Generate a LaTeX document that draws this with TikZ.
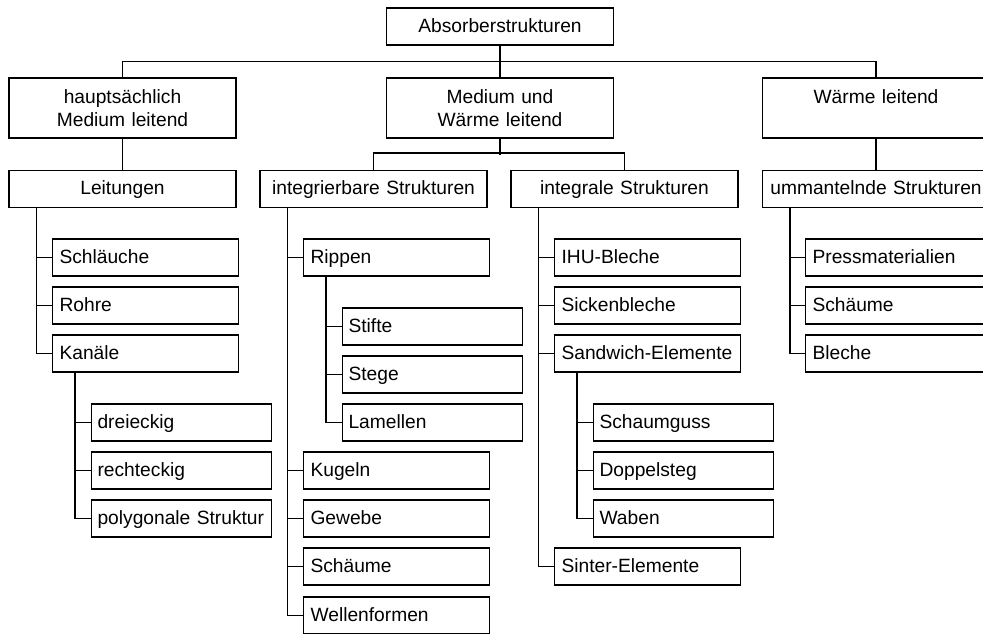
\documentclass[tikz,border=0pt]{standalone}
\usepackage{fontspec}
\setmainfont{Liberation Sans}
\tikzset{
  box/.style={draw,line width=0.55pt,inner ysep=0pt,minimum height=18.5pt,text height=7.3pt,text depth=1.8pt},
  headbox/.style={box,inner xsep=2pt,text width=109.5pt,align=center},
  groupbox/.style={draw,line width=0.55pt,inner xsep=2pt,inner ysep=0pt,minimum height=30pt,text width=109.5pt,align=center},
  leafbox/.style={box,anchor=west,inner xsep=3.5pt,text width=86pt,align=left},
  subbox/.style={box,anchor=west,inner xsep=3pt,text width=84pt,align=left},
  link/.style={line width=0.55pt}
}
\begin{document}
\begin{tikzpicture}[x=0.5pt,y=-0.5pt,font=\fontsize{9.6}{11.2}\selectfont]
  \clip (0,0) rectangle (983,633);

  % top levels
  \node[headbox] (root) at (500,26.5) {Absorberstrukturen};
  \node[groupbox] (medl) at (122.5,108) {hauptsächlich\\Medium leitend};
  \node[groupbox] (mwl) at (500,108) {Medium und\\Wärme leitend};
  \node[groupbox] (wl) at (876,108) {Wärme leitend\\\vphantom{M}};
  \draw[link] (root.south) -- (mwl.north);
  \draw[link] (medl.north) |- ++(377.5,-16) -| (wl.north);

  % structure groups
  \node[headbox] (leit) at (122.5,189) {Leitungen};
  \node[headbox] (intb) at (373.5,189) {integrierbare Strukturen};
  \node[headbox] (intl) at (624.5,189) {integrale Strukturen};
  \node[headbox] (umm) at (876,189) {ummantelnde Strukturen};
  \draw[link] (medl) -- (leit);
  \draw[link] (mwl.south) -- ++(0,16);
  \draw[link] (intb.north) |- ++(251,-17) -- (intl.north);
  \draw[link] (wl) -- (umm);

  % Leitungen
  \foreach \nm/\y/\txt in {schl/257.5/Schläuche,rohr/305.5/Rohre,kan/353.5/Kanäle}{
    \node[leafbox] (\nm) at (52,\y) {\mbox{\txt}};
  }
  \draw[link] ([xshift=14pt]leit.south west) coordinate (leitv) |- (kan.west);
  \foreach \nm in {schl,rohr}{\draw[link] (\nm.west) -- (\nm.west -| leitv);}
  \foreach \nm/\y/\txt in {drei/422.5/dreieckig,recht/470.5/rechteckig,poly/518.5/polygonale Struktur}{
    \node[subbox] (\nm) at (91,\y) {\mbox{\txt}};
  }
  \draw[link] ([xshift=11.5pt]kan.south west) coordinate (kanv) |- (poly.west);
  \foreach \nm in {drei,recht}{\draw[link] (\nm.west) -- (\nm.west -| kanv);}

  % integrierbare Strukturen
  \foreach \nm/\y/\txt in {ripp/257.5/Rippen,kug/470.5/Kugeln,gew/518.5/Gewebe,scha/566.5/Schäume,well/615.5/Wellenformen}{
    \node[leafbox] (\nm) at (303,\y) {\mbox{\txt}};
  }
  \draw[link] ([xshift=14pt]intb.south west) coordinate (intbv) |- (well.west);
  \foreach \nm in {ripp,kug,gew,scha}{\draw[link] (\nm.west) -- (\nm.west -| intbv);}
  \foreach \nm/\y/\txt in {stif/326.5/Stifte,steg/374.5/Stege,lam/422.5/Lamellen}{
    \node[subbox] (\nm) at (342,\y) {\mbox{\txt}};
  }
  \draw[link] ([xshift=11.5pt]ripp.south west) coordinate (rippv) |- (lam.west);
  \foreach \nm in {stif,steg}{\draw[link] (\nm.west) -- (\nm.west -| rippv);}

  % integrale Strukturen
  \foreach \nm/\y/\txt in {ihu/257.5/IHU-Bleche,sick/305.5/Sickenbleche,sand/353.5/Sandwich-Elemente,sint/566.5/Sinter-Elemente}{
    \node[leafbox] (\nm) at (554,\y) {\mbox{\txt}};
  }
  \draw[link] ([xshift=14pt]intl.south west) coordinate (intlv) |- (sint.west);
  \foreach \nm in {ihu,sick,sand}{\draw[link] (\nm.west) -- (\nm.west -| intlv);}
  \foreach \nm/\y/\txt in {guss/422.5/Schaumguss,dopp/470.5/Doppelsteg,wab/518.5/Waben}{
    \node[subbox] (\nm) at (593,\y) {\mbox{\txt}};
  }
  \draw[link] ([xshift=11.5pt]sand.south west) coordinate (sandv) |- (wab.west);
  \foreach \nm in {guss,dopp}{\draw[link] (\nm.west) -- (\nm.west -| sandv);}

  % ummantelnde Strukturen
  \foreach \nm/\y/\txt in {press/257.5/Pressmaterialien,schu/305.5/Schäume,blech/353.5/Bleche}{
    \node[leafbox] (\nm) at (805,\y) {\mbox{\txt}};
  }
  \draw[link] ([xshift=14pt]umm.south west) coordinate (ummv) |- (blech.west);
  \foreach \nm in {press,schu}{\draw[link] (\nm.west) -- (\nm.west -| ummv);}
\end{tikzpicture}
\end{document}
